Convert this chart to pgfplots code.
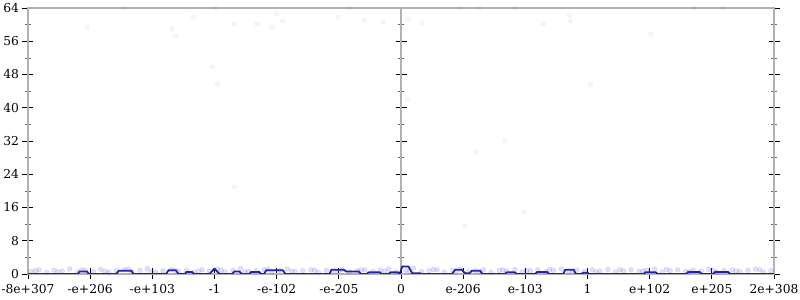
\documentclass[border=0pt]{standalone}
\usepackage{fontspec}
\setmainfont{DejaVu Serif}
\usepackage{pgfplots}
\pgfplotsset{compat=1.18}
\definecolor{lineblue}{RGB}{30,30,160}
\definecolor{ptblue}{RGB}{70,70,230}
\definecolor{axgray}{RGB}{178,178,178}
\pgfplotsset{
  common/.style={
    scale only axis, width=746pt, height=266pt,
    xmin=-6, xmax=6, ymin=0, ymax=64,
    ytick={0,8,...,64}, minor y tick num=1,
    tick align=center,
    major tick length=11pt, minor tick length=6pt,
    major tick style={black, line width=0.8pt},
    minor tick style={black!60, line width=0.6pt},
    tick label style={font=\fontsize{12.3}{14}\selectfont},
    /pgf/number format/assume math mode=true,
  }
}
\begin{document}
\begin{tikzpicture}
\begin{axis}[common,
  axis x line=none, axis y line=center,
  axis line style={-, draw=axgray, line width=1.6pt},
  yticklabels={},
]
\addplot[draw=none] coordinates {(0,0)};
\end{axis}
\begin{axis}[common,
  axis line style={draw=axgray, line width=1.6pt},
  xtick={-6,-5,-4,-3,-2,-1,0,1,2,3,4,5,6},
  xticklabels={-8e+307,-e+206,-e+103,-1,-e-102,-e-205,0,e-206,e-103,1,e+102,e+205,2e+308},
  xtick pos=left, ytick pos=both,
  xticklabel style={yshift=-1pt},
]
\coordinate (bl) at (rel axis cs:0,0);
\coordinate (tr) at (rel axis cs:1,1);
% faint sample points: dense band near zero
\addplot[only marks, mark=*, mark size=2.4pt,
  mark options={fill=ptblue, draw=ptblue, fill opacity=0.16, draw opacity=0.2}]
coordinates {
(-5.95,0.6)(-5.82,1.0)(-5.7,0.4)(-5.58,0.9)(-5.45,0.7)(-5.33,1.2)(-5.2,0.5)(-5.08,0.9)
(-4.95,0.6)(-4.83,1.1)(-4.7,0.4)(-4.58,0.8)(-4.45,1.0)(-4.33,0.6)(-4.2,0.9)(-4.08,1.3)
(-3.95,0.5)(-3.83,0.8)(-3.7,1.1)(-3.58,0.6)(-3.45,0.9)(-3.33,0.4)(-3.2,1.0)(-3.08,0.7)
(-2.95,1.2)(-2.83,0.5)(-2.7,0.9)(-2.58,1.3)(-2.45,0.6)(-2.33,0.8)(-2.2,1.0)(-2.08,0.5)
(-1.95,0.9)(-1.83,1.2)(-1.7,0.6)(-1.58,0.8)(-1.45,1.0)(-1.33,0.4)(-1.2,0.9)(-1.08,0.7)
(-0.95,1.1)(-0.83,0.5)(-0.7,0.8)(-0.58,1.0)(-0.45,0.6)(-0.33,0.9)(-0.2,1.2)(-0.08,0.5)
(0.08,0.9)(0.2,1.4)(0.33,0.6)(0.45,0.8)(0.58,1.0)(0.7,0.5)(0.83,0.9)(0.95,1.2)
(1.08,0.6)(1.2,0.8)(1.33,1.0)(1.45,0.4)(1.58,0.9)(1.7,0.7)(1.83,1.1)(1.95,0.5)
(2.08,0.8)(2.2,1.0)(2.33,0.6)(2.45,0.9)(2.58,1.2)(2.7,0.5)(2.83,0.9)(2.95,0.6)
(3.08,1.0)(3.2,0.7)(3.33,1.1)(3.45,0.5)(3.58,0.8)(3.7,1.0)(3.83,0.6)(3.95,0.9)
(4.08,1.2)(4.2,0.5)(4.33,0.8)(4.45,1.0)(4.58,0.6)(4.7,0.9)(4.83,0.7)(4.95,1.1)
(5.08,0.5)(5.2,0.8)(5.33,1.0)(5.45,0.6)(5.58,0.9)(5.7,1.2)(5.83,0.5)(5.95,0.8)
(-5.88,0.8)(-5.52,0.5)(-5.14,1.0)(-4.76,0.7)(-4.39,1.2)(-4.02,0.6)(-3.64,0.9)(-3.26,0.7)
(-2.89,0.9)(-2.51,0.5)(-2.14,1.1)(-1.76,0.7)(-1.39,0.9)(-1.01,0.6)(-0.64,1.0)(-0.26,0.7)
(0.14,0.6)(0.52,1.1)(0.89,0.7)(1.27,0.5)(1.64,1.0)(2.02,0.8)(2.39,1.1)(2.77,0.7)
(3.14,0.5)(3.52,1.0)(3.89,0.7)(4.27,1.1)(4.64,0.5)(5.02,0.9)(5.39,0.7)(5.77,1.0)
};
% faint sample points: outliers
\addplot[only marks, mark=*, mark size=2.3pt,
  mark options={fill=ptblue, draw=ptblue, fill opacity=0.05, draw opacity=0.08}]
coordinates {
(-5.05,59.4)(-4.45,64)(-3.68,59.0)(-3.63,57.3)(-3.34,61.8)(-2.98,64)(-3.03,49.8)
(-2.95,45.7)(-2.68,60.2)(-2.32,60.2)(-2.08,59.4)(-2.0,62.6)(-1.9,60.9)(-1.01,61.8)
(-0.83,64)(-0.59,61.0)(-0.29,60.6)(-2.68,20.9)
(0.11,61.4)(0.34,60.4)(0.95,64)(1.26,64)(1.83,64)(2.29,60.2)(2.71,62.3)(2.73,60.9)
(4.02,57.7)(4.71,64)(5.18,64)(3.05,45.5)(0.1,42.1)(1.67,32.0)(1.21,29.4)(1.98,14.9)
(1.03,11.5)
};
% histogram line
\addplot[lineblue, line width=1.8pt, line join=round] coordinates {
(-6,0)(-5.2,0)(-5.17,0.6)(-5.05,0.6)(-5.02,0)(-4.58,0)(-4.54,0.8)(-4.34,0.8)(-4.3,0)
(-3.78,0)(-3.74,0.9)(-3.62,0.9)(-3.58,0)(-3.48,0)(-3.45,0.5)(-3.36,0.5)(-3.33,0)
(-3.08,0)(-3.0,1.3)(-2.92,0)(-2.72,0)(-2.68,0.6)(-2.6,0.6)(-2.56,0)(-2.44,0)(-2.41,0.5)
(-2.28,0.5)(-2.25,0)(-2.2,0)(-2.17,0.9)(-1.9,0.9)(-1.86,0)(-1.15,0)(-1.12,1.0)(-0.92,1.0)
(-0.88,0.6)(-0.68,0.6)(-0.64,0)(-0.55,0)(-0.52,0.4)(-0.34,0.4)(-0.31,0)(-0.2,0)
(-0.17,0.4)(-0.05,0.4)(-0.02,0)(0.02,1.8)(0.12,1.8)(0.18,0.2)(0.3,0.2)(0.34,0)
(0.82,0)(0.87,1.0)(0.98,1.0)(1.03,0.2)(1.1,0.2)(1.14,0.8)(1.27,0.8)(1.31,0)
(1.67,0)(1.7,0.4)(1.83,0.4)(1.86,0)(2.16,0)(2.19,0.5)(2.35,0.5)(2.38,0)
(2.61,0)(2.64,1.0)(2.78,1.0)(2.81,0)(2.9,0)(2.93,0.3)(3.0,0.3)(3.03,0)
(3.9,0)(3.93,0.4)(4.1,0.4)(4.13,0)(4.58,0)(4.62,0.5)(4.8,0.5)(4.84,0)
(5.02,0)(5.05,0.5)(5.26,0.5)(5.3,0)(6,0)
};
\end{axis}
\pgfresetboundingbox
\path ([shift={(-28pt,-26pt)}]bl) rectangle ([shift={(26pt,8pt)}]tr);
\end{tikzpicture}
\end{document}
